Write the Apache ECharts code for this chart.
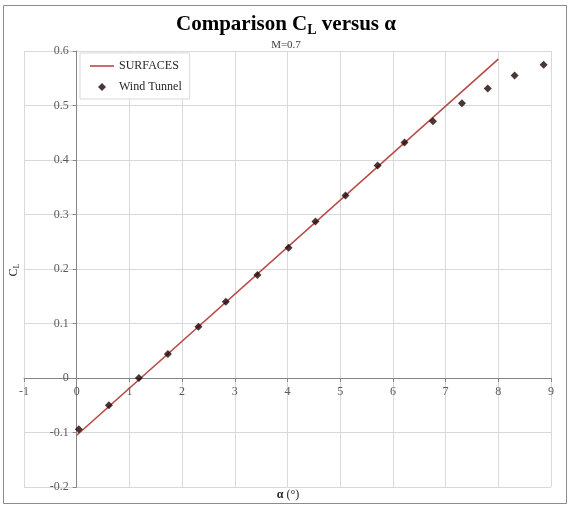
<!DOCTYPE html>
<html>
<head>
<meta charset="utf-8">
<script src="https://cdn.jsdelivr.net/npm/echarts@6/dist/echarts.min.js"></script>
<style>
  html, body { margin: 0; padding: 0; background: #fff; }
  #chart { width: 572px; height: 507px; }
</style>
</head>
<body>
<div id="chart"></div>
<script>
// Lift coefficient vs angle of attack, M = 0.7
const surfacesAlpha = [0, 8];
const surfacesCL = [-0.105, 0.585];

const tunnelAlpha = [0.04, 0.61, 1.18, 1.73, 2.31, 2.83, 3.43, 4.02, 4.53, 5.10, 5.71, 6.22, 6.76, 7.31, 7.80, 8.31, 8.86];
const tunnelCL = [-0.094, -0.050, 0.000, 0.044, 0.094, 0.140, 0.189, 0.239, 0.287, 0.335, 0.390, 0.432, 0.471, 0.504, 0.531, 0.555, 0.575];

const seriesNames = ['SURFACES', 'Wind Tunnel'];
const titleText = 'Comparison C{s|L} versus α';
const subtitleText = 'M=0.7';
const xTitle = '{b|α} (°)';
const yTitle = 'C{s|L}';

const serif = '"Liberation Serif", "DejaVu Serif", serif';
const labelColor = '#595959';
const gridColor = '#d9d9d9';
const axisColor = '#868686';

const gridBox = { left: 24, right: 21, top: 51, bottom: 20 };
const xRange = [-1, 9];
const yRange = [-0.2, 0.6];

const chart = echarts.init(document.getElementById('chart'), null, { renderer: 'canvas' });

// The axes cross at the origin; shift each axis (line, ticks, labels) inward to the zero of the other.
const plotW = 572 - gridBox.left - gridBox.right;
const plotH = 507 - gridBox.top - gridBox.bottom;
const xAxisOffset = -plotH * (0 - yRange[0]) / (yRange[1] - yRange[0]);
const yAxisOffset = -plotW * (0 - xRange[0]) / (xRange[1] - xRange[0]);

chart.setOption({
  animation: false,
  backgroundColor: '#fff',
  textStyle: { fontFamily: serif },
  title: [{
    text: titleText,
    left: 'center',
    top: 8,
    textStyle: {
      fontFamily: serif, fontSize: 21, fontWeight: 'bold', color: '#000',
      rich: { s: { fontFamily: serif, fontSize: 14, fontWeight: 'bold', color: '#000', padding: [10, 0, 0, 0] } }
    }
  }, {
    text: subtitleText,
    left: 'center',
    top: 35,
    textStyle: { fontFamily: serif, fontSize: 11, fontWeight: 'normal', color: '#404040' }
  }],
  grid: Object.assign({ containLabel: false }, gridBox),
  legend: {
    orient: 'vertical',
    left: 80,
    top: 53,
    padding: [7, 8, 6, 10],
    itemGap: 9,
    itemWidth: 24,
    itemHeight: 8,
    backgroundColor: '#fff',
    borderColor: '#d9d9d9',
    borderWidth: 1,
    textStyle: { fontFamily: serif, fontSize: 12, color: '#262626' },
    data: [
      { name: seriesNames[0], icon: 'path://M0,0 L24,0 L24,1.6 L0,1.6 Z' },
      { name: seriesNames[1], icon: 'path://M5,0 L10,5 L5,10 L0,5 Z' }
    ]
  },
  xAxis: {
    type: 'value',
    min: xRange[0], max: xRange[1], interval: 1,
    position: 'bottom',
    offset: xAxisOffset,
    axisLine: { onZero: false, lineStyle: { color: axisColor, width: 1 } },
    axisTick: { show: true, inside: false, length: 4, lineStyle: { color: axisColor } },
    axisLabel: { fontFamily: serif, fontSize: 12, color: labelColor, margin: 8 },
    splitLine: { show: true, lineStyle: { color: gridColor, width: 1 } }
  },
  yAxis: {
    type: 'value',
    min: yRange[0], max: yRange[1], interval: 0.1,
    position: 'left',
    offset: yAxisOffset,
    axisLine: { show: true, onZero: false, lineStyle: { color: axisColor, width: 1 } },
    axisTick: { show: true, length: 4, lineStyle: { color: axisColor } },
    axisLabel: {
      fontFamily: serif, fontSize: 12, color: labelColor, margin: 8,
      formatter: v => String(Math.round(v * 10) / 10)
    },
    splitLine: { show: true, lineStyle: { color: gridColor, width: 1 } }
  },
  graphic: [
    {
      type: 'rect',
      shape: { x: 3.5, y: 5.5, width: 563, height: 498 },
      style: { fill: 'none', stroke: '#8c8c8c', lineWidth: 1 },
      silent: true, z: -1
    },
    {
      type: 'text',
      x: 288, y: 495,
      style: {
        text: xTitle,
        fontFamily: serif, fontSize: 12, fill: '#262626',
        align: 'center', verticalAlign: 'middle',
        rich: { b: { fontFamily: serif, fontSize: 12, fontWeight: 'bold', fill: '#262626' } }
      }
    },
    {
      type: 'text',
      x: 14, y: 270,
      rotation: Math.PI / 2,
      style: {
        text: yTitle,
        fontFamily: serif, fontSize: 12, fill: '#262626',
        align: 'center', verticalAlign: 'middle',
        rich: { s: { fontFamily: serif, fontSize: 8, fill: '#262626', padding: [6, 0, 0, 0] } }
      }
    }
  ],
  series: [
    {
      name: seriesNames[0],
      type: 'line',
      symbol: 'none',
      data: surfacesAlpha.map((a, i) => [a, surfacesCL[i]]),
      lineStyle: { color: '#b84a44', width: 1.6 },
      itemStyle: { color: '#b84a44' },
      z: 2
    },
    {
      name: seriesNames[1],
      type: 'scatter',
      symbol: 'diamond',
      symbolSize: 8,
      data: tunnelAlpha.map((a, i) => [a, tunnelCL[i]]),
      itemStyle: { color: '#1e0404' },
      z: 3
    }
  ]
});
</script>
</body>
</html>
